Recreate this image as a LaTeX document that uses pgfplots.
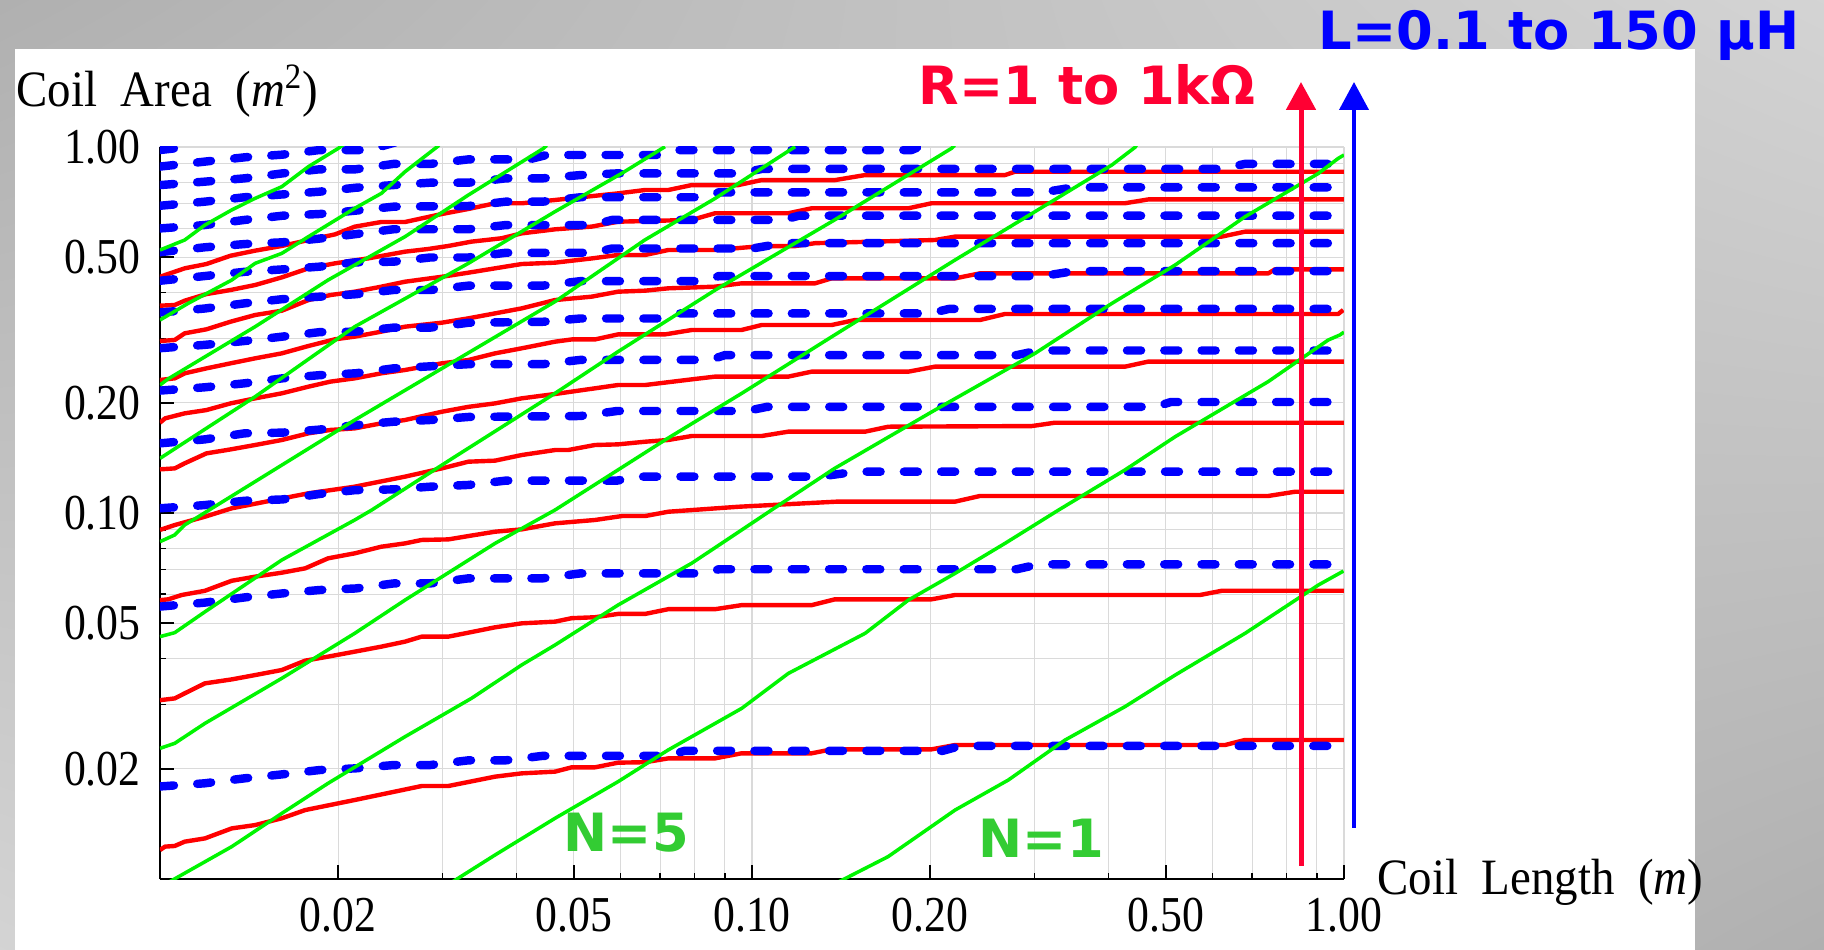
\documentclass[border=0pt]{standalone}
\usepackage{fontspec}
\setmainfont{Liberation Serif}
\newfontfamily\labfont{DejaVu Sans}
\usepackage{pgfplots}
\pgfplotsset{compat=1.18}
\usetikzlibrary{arrows.meta,shadings}

\definecolor{cgreen}{RGB}{0,245,0}
\definecolor{cred}{RGB}{255,0,0}
\definecolor{cblue}{RGB}{0,0,255}
\definecolor{ngreen}{RGB}{51,204,51}
\definecolor{rlab}{RGB}{255,0,51}
\definecolor{gridc}{RGB}{218,218,218}
\newcommand\tl[1]{\scalebox{0.87}[1]{#1}}

\pgfplotsset{
  rline/.style={cred, line width=1.25pt, line join=round},
  gline/.style={cgreen, line width=1.0pt, line join=round},
  bline/.style={cblue, line width=2.4pt, line cap=round, line join=round,
    dash pattern=on 1.4mm off 2.33mm},
}

\begin{document}
\begin{tikzpicture}
\useasboundingbox (0,0) rectangle (18.24,9.50);
\shade[upper left=black!31, upper right=black!17, lower left=black!17, lower right=black!31]
  (0,0) rectangle (18.24,9.50);
\fill[white] (0.15,0) rectangle (16.95,9.01);

\begin{axis}[
  at={(1.60cm,0.71cm)}, anchor=south west,
  scale only axis, width=11.84cm, height=7.32cm,
  xmode=log, ymode=log,
  xmin=0.01, xmax=1, ymin=0.01, ymax=1,
  axis lines=left, axis line style={-, black, line width=0.45pt},
  tick align=inside,
  major tick length=1.4mm, minor tick length=0.6mm,
  tick style={black, line width=0.45pt},
  xtick={0.02,0.05,0.1,0.2,0.5,1},
  xticklabels={\tl{0.02},\tl{0.05},\tl{0.10},\tl{0.20},\tl{0.50},\tl{1.00}},
  minor xtick={0.03,0.04,0.06,0.07,0.08,0.09,0.3,0.4,0.6,0.7,0.8,0.9},
  ytick={0.02,0.05,0.1,0.2,0.5,1},
  yticklabels={\tl{0.02},\tl{0.05},\tl{0.10},\tl{0.20},\tl{0.50},\tl{1.00}},
  minor ytick={0.03,0.04,0.06,0.07,0.08,0.09,0.3,0.4,0.6,0.7,0.8,0.9},
  grid=both,
  major grid style={gridc, line width=0.3pt},
  minor grid style={gridc, line width=0.3pt},
  tick label style={font=\fontsize{14.3}{17}\selectfont},
  xticklabel style={yshift=-0.7mm},
  yticklabel style={xshift=-0.7mm},
]
% resistance contours R = 1 ... 1k Ohm
\addplot[rline] coordinates {(0.01,0.442)(0.01101,0.4661)(0.01198,0.4789)(0.01316,0.5046)(0.01448,0.5209)(0.01606,0.5365)(0.01782,0.5569)(0.01976,0.5771)(0.02133,0.6058)(0.02366,0.6239)(0.02594,0.6239)(0.02993,0.656)(0.03319,0.6772)(0.03681,0.7017)(0.04083,0.7017)(0.04648,0.7165)(0.0594,0.747)(0.066,0.763)(0.0722,0.763)(0.0791,0.787)(0.0948,0.787)(0.1038,0.812)(0.1381,0.812)(0.1552,0.838)(0.2676,0.838)(0.2781,0.856)(1,0.856)};
\addplot[rline] coordinates {(0.01,0.3685)(0.01059,0.3701)(0.01101,0.3803)(0.01198,0.3965)(0.01316,0.4067)(0.01448,0.4197)(0.01606,0.4403)(0.01782,0.4661)(0.01976,0.4810)(0.02249,0.4963)(0.02594,0.5176)(0.02839,0.5264)(0.03069,0.5365)(0.03358,0.5513)(0.03773,0.5630)(0.04083,0.5807)(0.04648,0.5957)(0.0536,0.606)(0.0594,0.625)(0.0791,0.632)(0.0866,0.659)(0.1151,0.659)(0.1261,0.680)(0.1837,0.680)(0.2011,0.702)(0.4267,0.702)(0.4671,0.719)(1,0.719)};
\addplot[rline] coordinates {(0.01,0.2951)(0.01059,0.2970)(0.01101,0.3097)(0.01198,0.3176)(0.01316,0.3332)(0.01448,0.3475)(0.01606,0.3570)(0.01782,0.3818)(0.0194,0.3940)(0.02133,0.4024)(0.02366,0.4153)(0.02594,0.4285)(0.02993,0.442)(0.03319,0.4535)(0.03681,0.4661)(0.04083,0.4789)(0.04648,0.4830)(0.0536,0.496)(0.0594,0.507)(0.066,0.507)(0.0722,0.523)(0.0866,0.523)(0.1038,0.536)(0.1182,0.536)(0.1278,0.546)(0.2038,0.557)(0.2203,0.569)(0.6215,0.569)(0.6805,0.587)(1,0.587)};
\addplot[rline] coordinates {(0.01,0.2309)(0.01059,0.2333)(0.01101,0.2408)(0.01198,0.2484)(0.01316,0.2564)(0.01448,0.2646)(0.01606,0.2730)(0.01782,0.2860)(0.01976,0.2983)(0.02133,0.3033)(0.02366,0.3130)(0.02594,0.3229)(0.02993,0.3311)(0.03319,0.3403)(0.03681,0.3511)(0.04083,0.3623)(0.04648,0.3818)(0.0536,0.390)(0.0594,0.4024)(0.066,0.405)(0.0722,0.411)(0.0866,0.4153)(0.096,0.4241)(0.1278,0.4241)(0.1363,0.4376)(0.2203,0.4376)(0.2427,0.4516)(0.7452,0.4516)(0.7647,0.4632)(1,0.4632)};
\addplot[rline] coordinates {(0.01,0.1765)(0.0102,0.1814)(0.01101,0.1872)(0.01198,0.1911)(0.01316,0.1993)(0.01448,0.2057)(0.01606,0.2123)(0.01782,0.2214)(0.0194,0.2285)(0.02133,0.2333)(0.02366,0.2408)(0.02594,0.2459)(0.02993,0.2564)(0.03319,0.2618)(0.03681,0.2730)(0.04083,0.2818)(0.04648,0.2938)(0.0496,0.298)(0.0543,0.298)(0.0594,0.3076)(0.0713,0.3076)(0.0791,0.3162)(0.096,0.3162)(0.1038,0.3263)(0.1363,0.3263)(0.1493,0.3367)(0.2427,0.3367)(0.2676,0.3498)(0.978,0.3498)(0.997,0.3587)};
\addplot[rline] coordinates {(0.01,0.1316)(0.01059,0.1324)(0.01101,0.1367)(0.01198,0.1455)(0.01316,0.1492)(0.01448,0.1534)(0.01606,0.1583)(0.01782,0.1651)(0.0194,0.1686)(0.02133,0.1703)(0.02366,0.1758)(0.02594,0.1795)(0.02993,0.1891)(0.03319,0.195)(0.03681,0.1993)(0.04083,0.2057)(0.04648,0.2114)(0.0543,0.2191)(0.0594,0.2237)(0.066,0.2237)(0.0791,0.2318)(0.0866,0.2358)(0.1151,0.2358)(0.1261,0.2433)(0.1837,0.2433)(0.2038,0.2511)(0.4267,0.2511)(0.4671,0.2592)(1,0.2592)};
\addplot[rline] coordinates {(0.01,0.0899)(0.01059,0.0927)(0.01191,0.0977)(0.01322,0.1030)(0.01782,0.1132)(0.02133,0.1180)(0.02594,0.1257)(0.02993,0.1324)(0.03319,0.1381)(0.03681,0.1390)(0.04083,0.1440)(0.04648,0.1486)(0.0489,0.1486)(0.0543,0.1534)(0.0594,0.1540)(0.066,0.1566)(0.0722,0.1583)(0.0791,0.1623)(0.1038,0.1623)(0.1151,0.1668)(0.1552,0.1668)(0.17,0.1721)(0.2969,0.1728)(0.325,0.1765)(1,0.1765)};
\addplot[rline] coordinates {(0.01,0.0578)(0.01033,0.0581)(0.01088,0.0597)(0.01191,0.0613)(0.01322,0.0653)(0.01448,0.0670)(0.01606,0.0687)(0.01759,0.0706)(0.01923,0.0752)(0.02133,0.0776)(0.02366,0.0809)(0.02594,0.0826)(0.02767,0.0844)(0.03069,0.0847)(0.03319,0.0865)(0.03681,0.0889)(0.04083,0.0902)(0.04648,0.0937)(0.0543,0.0957)(0.0603,0.0981)(0.066,0.0981)(0.0722,0.1008)(0.0948,0.1040)(0.139,0.1074)(0.2203,0.1074)(0.2427,0.1113)(0.7452,0.1113)(0.8264,0.1143)(1,0.1143)};
\addplot[rline] coordinates {(0.01,0.0308)(0.01059,0.03115)(0.01101,0.03216)(0.01191,0.03424)(0.01322,0.03511)(0.01448,0.03608)(0.01606,0.03724)(0.01759,0.03950)(0.01923,0.04051)(0.02133,0.04180)(0.02366,0.04314)(0.02594,0.04452)(0.02767,0.04594)(0.03069,0.04594)(0.03319,0.04710)(0.03681,0.04871)(0.04083,0.04995)(0.04648,0.05048)(0.0496,0.0516)(0.0543,0.0519)(0.0594,0.0530)(0.066,0.0530)(0.0722,0.0546)(0.0866,0.0546)(0.096,0.0560)(0.1261,0.0560)(0.1381,0.0581)(0.2011,0.0581)(0.2203,0.0597)(0.5712,0.0597)(0.6215,0.0613)(1,0.0613)};
\addplot[rline] coordinates {(0.01,0.0120)(0.0102,0.01226)(0.01059,0.01231)(0.01101,0.01265)(0.01191,0.01291)(0.01322,0.01375)(0.01448,0.01404)(0.01606,0.01465)(0.01759,0.01543)(0.02133,0.01644)(0.02767,0.01795)(0.03069,0.01795)(0.03681,0.01904)(0.04083,0.01944)(0.04648,0.01965)(0.0496,0.02019)(0.0543,0.02019)(0.0594,0.02079)(0.066,0.02085)(0.0722,0.02136)(0.0866,0.02136)(0.096,0.02205)(0.1261,0.02205)(0.1363,0.02261)(0.2011,0.02261)(0.2203,0.02323)(0.6295,0.02323)(0.6805,0.02398)(1,0.02398)};

% inductance contours L = 0.1 ... 150 uH
\addplot[bline] coordinates {(0.01,0.981)(0.0108,0.995)(0.0115,1.02)};
\addplot[bline] coordinates {(0.01,0.884)(0.0119,0.912)(0.0139,0.937)(0.0161,0.953)(0.0186,0.981)(0.0225,0.981)(0.025,1.03)};
\addplot[bline] coordinates {(0.01,0.787)(0.0119,0.804)(0.0139,0.821)(0.0161,0.847)(0.0186,0.869)(0.0214,0.869)(0.0248,0.899)(0.0286,0.899)(0.0332,0.925)(0.042,0.925)(0.045,0.951)(0.07,0.951)(0.075,0.981)(0.186,0.981)(0.2,1.03)};
\addplot[bline] coordinates {(0.01,0.691)(0.0119,0.709)(0.0139,0.729)(0.0161,0.742)(0.0186,0.755)(0.0214,0.774)(0.0248,0.787)(0.0286,0.799)(0.0332,0.799)(0.0384,0.821)(0.0443,0.821)(0.0513,0.838)(0.0592,0.847)(0.095,0.847)(0.104,0.871)(0.62,0.871)(0.68,0.899)(0.985,0.899)};
\addplot[bline] coordinates {(0.01,0.599)(0.0119,0.612)(0.0139,0.632)(0.0161,0.649)(0.0186,0.656)(0.0214,0.670)(0.0248,0.687)(0.0332,0.690)(0.0384,0.709)(0.0443,0.709)(0.0513,0.729)(0.082,0.729)(0.088,0.752)(0.31,0.752)(0.35,0.776)(0.985,0.776)};
\addplot[bline] coordinates {(0.01,0.516)(0.0119,0.532)(0.0139,0.543)(0.0161,0.549)(0.0186,0.562)(0.0214,0.578)(0.0248,0.596)(0.0332,0.596)(0.0384,0.612)(0.054,0.612)(0.058,0.632)(0.113,0.632)(0.12,0.649)(0.985,0.649)};
\addplot[bline] coordinates {(0.01,0.431)(0.0119,0.444)(0.0139,0.456)(0.0161,0.463)(0.0186,0.471)(0.0214,0.484)(0.0248,0.486)(0.0286,0.499)(0.0332,0.499)(0.0384,0.514)(0.054,0.514)(0.058,0.528)(0.1,0.528)(0.113,0.546)(0.985,0.546)};
\addplot[bline] coordinates {(0.01,0.353)(0.0119,0.362)(0.0139,0.374)(0.0161,0.384)(0.0186,0.390)(0.0214,0.396)(0.0248,0.4067)(0.0286,0.4067)(0.0332,0.418)(0.0443,0.418)(0.0513,0.430)(0.082,0.430)(0.088,0.444)(0.31,0.444)(0.35,0.458)(0.985,0.458)};
\addplot[bline] coordinates {(0.01,0.282)(0.0119,0.288)(0.0139,0.2951)(0.0161,0.3033)(0.0186,0.312)(0.0214,0.313)(0.0248,0.321)(0.0286,0.321)(0.0332,0.331)(0.0443,0.333)(0.0513,0.340)(0.07,0.340)(0.075,0.351)(0.2,0.351)(0.215,0.361)(0.985,0.361)};
\addplot[bline] coordinates {(0.01,0.216)(0.0119,0.2205)(0.0139,0.2261)(0.0161,0.2333)(0.0186,0.238)(0.0214,0.2408)(0.0248,0.2484)(0.0332,0.255)(0.0443,0.255)(0.0513,0.262)(0.085,0.262)(0.09,0.270)(0.28,0.270)(0.305,0.278)(0.985,0.278)};
\addplot[bline] coordinates {(0.01,0.155)(0.0119,0.1589)(0.0139,0.1651)(0.0161,0.1658)(0.0186,0.169)(0.0214,0.1739)(0.0248,0.1776)(0.0286,0.1795)(0.0332,0.183)(0.0513,0.1841)(0.0592,0.190)(0.098,0.190)(0.106,0.195)(0.48,0.195)(0.51,0.201)(0.985,0.201)};
\addplot[bline] coordinates {(0.01,0.103)(0.0119,0.1051)(0.0139,0.1080)(0.0161,0.1089)(0.0186,0.1127)(0.0214,0.1155)(0.0248,0.1160)(0.0286,0.1180)(0.0332,0.1193)(0.0384,0.1226)(0.0592,0.1226)(0.064,0.1257)(0.13,0.1257)(0.15,0.1297)(0.985,0.1297)};
\addplot[bline] coordinates {(0.01,0.0555)(0.0119,0.0569)(0.0139,0.0588)(0.0161,0.0603)(0.0186,0.0616)(0.0214,0.0622)(0.0248,0.0642)(0.0286,0.0642)(0.0332,0.0663)(0.0443,0.0663)(0.0513,0.0684)(0.082,0.0684)(0.088,0.0702)(0.28,0.0702)(0.305,0.0724)(0.985,0.0724)};
\addplot[bline] coordinates {(0.01,0.0179)(0.0119,0.01826)(0.0139,0.01884)(0.0161,0.01932)(0.0186,0.01985)(0.0214,0.02006)(0.0248,0.02048)(0.0286,0.02048)(0.0332,0.0211)(0.0384,0.0211)(0.0443,0.0217)(0.072,0.0217)(0.077,0.0224)(0.21,0.0224)(0.225,0.0231)(0.985,0.0231)};

% turn-number contours N
\addplot[gline] coordinates {(0.01,0.523)(0.01101,0.557)(0.01191,0.612)(0.01322,0.673)(0.01448,0.724)(0.01606,0.779)(0.01782,0.884)(0.02001,0.9915)(0.0205,1.02)};
\addplot[gline] coordinates {(0.01,0.3367)(0.01116,0.374)(0.01322,0.433)(0.01448,0.481)(0.01606,0.512)(0.01782,0.569)(0.02133,0.680)(0.02366,0.747)(0.02594,0.856)(0.02917,0.9915)(0.0296,1.01)};
\addplot[gline] coordinates {(0.01,0.2237)(0.0103,0.232)(0.01448,0.3229)(0.01923,0.433)(0.02594,0.5689)(0.03319,0.7393)(0.04446,0.9915)(0.045,1.01)};
\addplot[gline] coordinates {(0.01,0.141)(0.01448,0.2079)(0.02133,0.3229)(0.03319,0.481)(0.04648,0.6659)(0.06026,0.8472)(0.0713,1.002)};
\addplot[gline] coordinates {(0.01,0.0835)(0.01059,0.0871)(0.0110,0.0927)(0.01161,0.0977)(0.02133,0.1795)(0.04648,0.378)(0.0659,0.557)(0.0867,0.724)(0.1183,1.002)};
\addplot[gline] coordinates {(0.01,0.04594)(0.01059,0.0471)(0.01191,0.0537)(0.01606,0.0744)(0.02133,0.0957)(0.02279,0.1019)(0.0315,0.1425)(0.04648,0.2123)(0.0594,0.276)(0.0867,0.4067)(0.1379,0.632)(0.2173,0.9915)(0.22,1.01)};
\addplot[gline] coordinates {(0.01,0.02275)(0.01059,0.02348)(0.01191,0.02662)(0.01606,0.03534)(0.02133,0.04691)(0.02594,0.05783)(0.03681,0.0826)(0.04648,0.1019)(0.0713,0.1583)(0.0961,0.2123)(0.1364,0.3031)(0.2203,0.4912)(0.3007,0.6659)(0.4055,0.893)(0.4437,0.998)(0.446,1.01)};
\addplot[gline] coordinates {(0.01,0.0095)(0.01322,0.01226)(0.01606,0.01511)(0.01923,0.01826)(0.02594,0.02448)(0.03357,0.03115)(0.04083,0.03844)(0.04648,0.04358)(0.0594,0.05604)(0.0791,0.0729)(0.0961,0.0899)(0.1079,0.1019)(0.1379,0.1324)(0.2037,0.1911)(0.3007,0.2730)(0.4055,0.3739)(0.5186,0.4760)(0.6808,0.6451)(0.9057,0.8472)(0.978,0.931)(1.0,0.951)};
\addplot[gline] coordinates {(0.0305,0.0096)(0.03681,0.01163)(0.04648,0.01465)(0.0594,0.01845)(0.0722,0.02252)(0.0961,0.02926)(0.1152,0.03646)(0.1553,0.04691)(0.1838,0.05783)(0.2203,0.0684)(0.2675,0.0826)(0.3296,0.1019)(0.4266,0.1311)(0.5186,0.1616)(0.7447,0.2285)(0.9408,0.2970)(0.984,0.3064)(1.0,0.312)};
\addplot[gline] coordinates {(0.138,0.0097)(0.1698,0.01151)(0.2203,0.01543)(0.2710,0.01864)(0.3381,0.02398)(0.4266,0.02957)(0.5186,0.03608)(0.6808,0.04691)(0.9057,0.0636)(0.998,0.0694)};
\end{axis}

% axis labels
\node[anchor=base west, inner sep=0, font=\fontsize{14.5}{17}\selectfont] at (0.16,8.43)
  {\scalebox{0.92}[1]{Coil\ \ Area\ \ (\textit{m}\textsuperscript{2})}};
\node[anchor=base west, inner sep=0, font=\fontsize{14.5}{17}\selectfont] at (13.77,0.55)
  {\scalebox{0.92}[1]{Coil\ \ Length\ \ (\textit{m})}};

% annotations
\draw[rlab, line width=1.42pt, -{Triangle[length=2.8mm,width=2.9mm]}] (13.01,0.84) -- (13.01,8.68);
\draw[cblue, line width=1.14pt, -{Triangle[length=2.8mm,width=2.9mm]}] (13.54,1.22) -- (13.54,8.68);
\node[anchor=base west, inner sep=0, text=rlab, font=\labfont\bfseries\fontsize{15}{18}\selectfont]
  at (9.18,8.45) {R=1 to 1kΩ};
\node[anchor=base west, inner sep=0, text=cblue, font=\labfont\bfseries\fontsize{15}{18}\selectfont]
  at (13.18,9.00) {L=0.1 to 150 μH};
\node[anchor=base west, inner sep=0, text=ngreen, font=\labfont\bfseries\fontsize{15}{18}\selectfont]
  at (5.63,0.98) {N=5};
\node[anchor=base west, inner sep=0, text=ngreen, font=\labfont\bfseries\fontsize{15}{18}\selectfont]
  at (9.78,0.92) {N=1};
\end{tikzpicture}
\end{document}
